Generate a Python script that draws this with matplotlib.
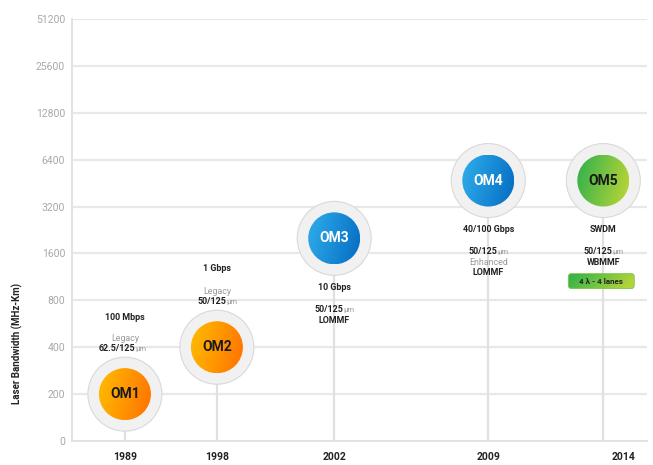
import numpy as np
import matplotlib
matplotlib.use("Agg")
import matplotlib.pyplot as plt
from matplotlib.patches import Circle, FancyBboxPatch
from matplotlib.transforms import ScaledTranslation
from matplotlib.colors import LinearSegmentedColormap

# datos
years = ["1989", "1998", "2002", "2009", "2014"]
fibers = ["OM1", "OM2", "OM3", "OM4", "OM5"]
bandwidth = [200, 400, 2000, 4700, 4700]
speed = ["100 Mbps", "1 Gbps", "10 Gbps", "40/100 Gbps", "SWDM"]
core = ["62.5/125", "50/125", "50/125", "50/125", "50/125"]
kind = ["Legacy", "Legacy", "", "Enhanced", ""]
fiber_type = ["", "", "LOMMF", "LOMMF", "WBMMF"]
ytick_labels = ["0", "200", "400", "800", "1600", "3200", "6400", "12800", "25600", "51200"]

# posiciones en el eje x (irregulares como en el original)
xpos = [0.46, 1.26, 2.28, 3.62, 4.62]
xlabel_pos = [0.46, 1.26, 2.28, 3.62, 4.80]

colors = {
    "OM1": ("#ffb600", "#ff7800", "#1a1a1a"),
    "OM2": ("#ffb600", "#ff7800", "#1a1a1a"),
    "OM3": ("#2ba8e8", "#0a72c6", "white"),
    "OM4": ("#2ba8e8", "#0a72c6", "white"),
    "OM5": ("#3cb44a", "#b2d338", "#1a1a1a"),
}

plt.rcParams["font.family"] = ["Roboto", "DejaVu Sans"]
DPI = 100


def to_scale(v):
    # eje "logaritmico" con el 0 en la base
    return 0 if v == 0 else 1 + np.log2(v / 200)


fig = plt.figure(figsize=(6.53, 4.65), dpi=DPI)
ax = fig.add_axes([72 / 653, 24 / 465, 575 / 653, 422 / 465])
ax.set_xlim(0, 5)
ax.set_ylim(0, 9)

# rejilla horizontal
for i in range(1, 10):
    ax.axhline(i, color="#e8e8e8", lw=1.6, zorder=0)

for s in ["top", "right"]:
    ax.spines[s].set_visible(False)
ax.spines["left"].set_color("#e2e2e2")
ax.spines["bottom"].set_color("#e2e2e2")
ax.spines["left"].set_linewidth(1.4)
ax.spines["bottom"].set_linewidth(1.4)

ax.set_yticks(range(10))
ax.set_yticklabels(ytick_labels, color="#a8a8a8", fontsize=7.5)
ax.tick_params(axis="y", length=0, pad=5)
ax.set_xticks(xlabel_pos)
ax.set_xticklabels(years, fontsize=7.5, fontweight="bold", color="#222222")
ax.tick_params(axis="x", length=0, pad=8)

fig.text(17 / 653, 1 - 344 / 465, "Laser Bandwidth (MHz-Km)", rotation=90,
         ha="center", va="center", fontsize=7, fontweight="bold", color="#222222")

grad = np.tile(np.linspace(0, 1, 256), (256, 1))
# leve componente diagonal
grad = np.clip(grad + np.linspace(-0.12, 0.12, 256)[:, None], 0, 1)

for i, name in enumerate(fibers):
    x = xpos[i]
    y = to_scale(bandwidth[i])
    tr = fig.dpi_scale_trans + ScaledTranslation(x, y, ax.transData)

    # tallo
    ax.plot([x, x], [0, y], color="#e0e0e0", lw=1.6, zorder=1)

    # anillo exterior
    ax.add_patch(Circle((0, 0), 37 / DPI, transform=tr, facecolor="#f1f1f1",
                        edgecolor="#d9d9d9", lw=0.8, zorder=3))

    c1, c2, tc = colors[name]
    cmap = LinearSegmentedColormap.from_list(name, [c1, c2])
    r = 26 / DPI
    clip = Circle((0, 0), r, transform=tr, facecolor="none", edgecolor="none")
    ax.add_patch(clip)
    im = ax.imshow(grad, cmap=cmap, extent=(-r, r, -r, r), transform=tr,
                   aspect="auto", zorder=4, interpolation="bilinear")
    im.set_clip_path(clip)

    ax.annotate(name, (x, y), ha="center", va="center", fontsize=10,
                fontweight="bold", color=tc, zorder=5)

    # textos
    def note(txt, dy, dx=0, ha="center", color="#222222", weight="bold", size=6.4):
        ax.annotate(txt, (x, y), xytext=(dx, dy), textcoords="offset pixels",
                    ha=ha, va="center", fontsize=size, fontweight=weight,
                    color=color, zorder=5)

    def core_note(dy):
        # numero en negrita + "µm" en gris
        shift = 10 if len(core[i]) > 6 else 9
        note(core[i], dy, dx=shift, ha="right")
        note("µm", dy - 0.5, dx=shift, ha="left", color="#9a9a9a",
             weight="normal", size=5.6)

    if i < 2:
        note(speed[i], 77 if i == 0 else 79)
        note(kind[i], 56, color="#9a9a9a", weight="normal")
        core_note(46)
    else:
        note(speed[i], -49)
        dy = -71
        core_note(dy)
        dy -= 11
        if kind[i]:
            note(kind[i], dy, color="#9a9a9a", weight="normal")
            dy -= 10
        note(fiber_type[i], dy)

    if name == "OM5":
        box_tr = fig.dpi_scale_trans + ScaledTranslation(x, y, ax.transData)
        bx0, by0, bw, bh = -35 / DPI, -108 / DPI, 66 / DPI, 15 / DPI
        box = FancyBboxPatch((bx0, by0), bw, bh,
                             boxstyle="round,pad=0,rounding_size=0.03",
                             transform=box_tr, facecolor="none", edgecolor="#7fc44a",
                             lw=0.6, zorder=6)
        ax.add_patch(box)
        gcmap = LinearSegmentedColormap.from_list("box", ["#3ab54a", "#b5d43a"])
        bim = ax.imshow(grad, cmap=gcmap, extent=(bx0, bx0 + bw, by0, by0 + bh),
                        transform=box_tr, aspect="auto", zorder=5)
        bim.set_clip_path(box)
        note("4 λ - 4 lanes", -100.5, dx=-2, size=5.8)

ax.set_xlim(0, 5)
ax.set_ylim(0, 9)

fig.savefig("out.png", dpi=DPI)
plt.close(fig)
